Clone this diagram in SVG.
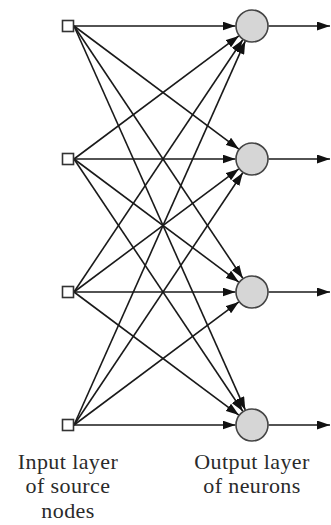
<svg xmlns="http://www.w3.org/2000/svg" width="331" height="525" viewBox="0 0 331 525">
<defs>
<style>
.c{stroke:#1a1a1a;stroke-width:1.6;fill:none;marker-end:url(#ah)}
.in{fill:#fff;stroke:#333;stroke-width:1.6}
.out{fill:#d6d6d6;stroke:#444;stroke-width:1.6}
.t{font-family:"Liberation Serif","Times New Roman",serif;font-size:22px;letter-spacing:0.4px;fill:#2a2a2a;text-anchor:middle}
</style>
<marker id="ah" markerUnits="userSpaceOnUse" markerWidth="13" markerHeight="9" refX="13" refY="4.5" orient="auto">
<path d="M0,0 L13,4.5 L0,9 z" fill="#111"/>
</marker>
</defs>
<g id="connectors">
<line class="c" x1="74" y1="26" x2="235.5" y2="26"/>
<line class="c" x1="74" y1="26" x2="238.8" y2="149.1"/>
<line class="c" x1="74" y1="26" x2="242.8" y2="278.3"/>
<line class="c" x1="74" y1="26" x2="245.3" y2="409.9"/>
<line class="c" x1="74" y1="159" x2="238.8" y2="35.9"/>
<line class="c" x1="74" y1="159" x2="235.5" y2="159"/>
<line class="c" x1="74" y1="159" x2="238.8" y2="282.1"/>
<line class="c" x1="74" y1="159" x2="242.8" y2="411.3"/>
<line class="c" x1="74" y1="292" x2="242.8" y2="39.7"/>
<line class="c" x1="74" y1="292" x2="238.8" y2="168.9"/>
<line class="c" x1="74" y1="292" x2="235.5" y2="292"/>
<line class="c" x1="74" y1="292" x2="238.8" y2="415.1"/>
<line class="c" x1="74" y1="425" x2="245.3" y2="41.1"/>
<line class="c" x1="74" y1="425" x2="242.8" y2="172.7"/>
<line class="c" x1="74" y1="425" x2="238.8" y2="301.9"/>
<line class="c" x1="74" y1="425" x2="235.5" y2="425"/>
<line class="c" x1="268.5" y1="26" x2="330" y2="26"/>
<line class="c" x1="268.5" y1="159" x2="330" y2="159"/>
<line class="c" x1="268.5" y1="292" x2="330" y2="292"/>
<line class="c" x1="268.5" y1="425" x2="330" y2="425"/>
</g>
<g id="in1"><rect class="in" x="62.5" y="20.5" width="11" height="11"/></g>
<g id="in2"><rect class="in" x="62.5" y="153.5" width="11" height="11"/></g>
<g id="in3"><rect class="in" x="62.5" y="286.5" width="11" height="11"/></g>
<g id="in4"><rect class="in" x="62.5" y="419.5" width="11" height="11"/></g>
<g id="out1"><circle class="out" cx="252" cy="26" r="16"/></g>
<g id="out2"><circle class="out" cx="252" cy="159" r="16"/></g>
<g id="out3"><circle class="out" cx="252" cy="292" r="16"/></g>
<g id="out4"><circle class="out" cx="252" cy="425" r="16"/></g>
<g id="label-input">
<text class="t" x="68" y="469">Input layer</text>
<text class="t" x="68" y="493">of source</text>
<text class="t" x="68" y="518">nodes</text>
</g>
<g id="label-output">
<text class="t" x="252" y="469">Output layer</text>
<text class="t" x="252" y="493">of neurons</text>
</g>
</svg>
